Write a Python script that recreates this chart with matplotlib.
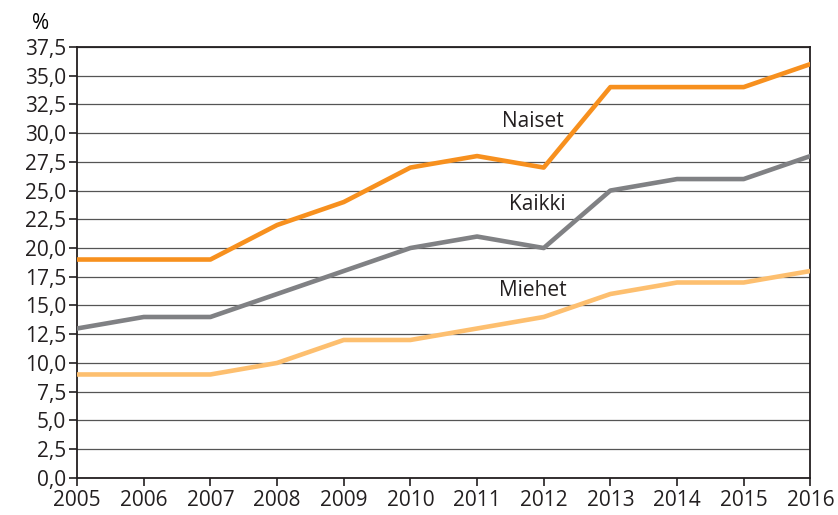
import matplotlib.pyplot as plt
import numpy as np

years = [2005, 2006, 2007, 2008, 2009, 2010, 2011, 2012, 2013, 2014, 2015, 2016]
naiset = [19, 19, 19, 22, 24, 27, 28, 27, 34, 34, 34, 36]
kaikki = [13, 14, 14, 16, 18, 20, 21, 20, 25, 26, 26, 28]
miehet = [9, 9, 9, 10, 12, 12, 13, 14, 16, 17, 17, 18]

plt.rcParams['font.family'] = ['Open Sans', 'DejaVu Sans']
plt.rcParams['font.size'] = 15

fig = plt.figure(figsize=(8.38, 5.15), dpi=100)
ax = fig.add_axes([0.092, 0.072, 0.875, 0.837])

yt = np.arange(0, 37.6, 2.5)
for y in yt:
    ax.axhline(y, color="#555555", lw=0.9, zorder=1)

ax.plot(years, miehet, color="#FDBF6F", lw=3.3, zorder=3)
ax.plot(years, kaikki, color="#808184", lw=3.3, zorder=3)
ax.plot(years, naiset, color="#F7901E", lw=3.3, zorder=3)

ax.text(2011.84, 31.0, "Naiset", ha="center", va="center", fontsize=15, color="#231f20")
ax.text(2011.9, 23.8, "Kaikki", ha="center", va="center", fontsize=15, color="#231f20")
ax.text(2011.84, 16.3, "Miehet", ha="center", va="center", fontsize=15, color="#231f20")

ax.set_xlim(2005, 2016)
ax.set_ylim(0, 37.5)
ax.set_yticks(yt)
ax.set_yticklabels([f"{v:.1f}".replace(".", ",") for v in yt])
ax.set_xticks(years)
ax.set_xticklabels([str(y) for y in years])
ax.tick_params(axis="both", direction="out", length=6, width=1.2, colors="#231f20", labelsize=15)
ax.tick_params(axis="y", pad=2)
ax.tick_params(axis="x", pad=3)
for s in ax.spines.values():
    s.set_color("#231f20")
    s.set_linewidth(1.3)
ax.text(-0.05, 1.055, "%", transform=ax.transAxes, fontsize=15, ha="center", va="center")

fig.savefig("out.png", dpi=100)
